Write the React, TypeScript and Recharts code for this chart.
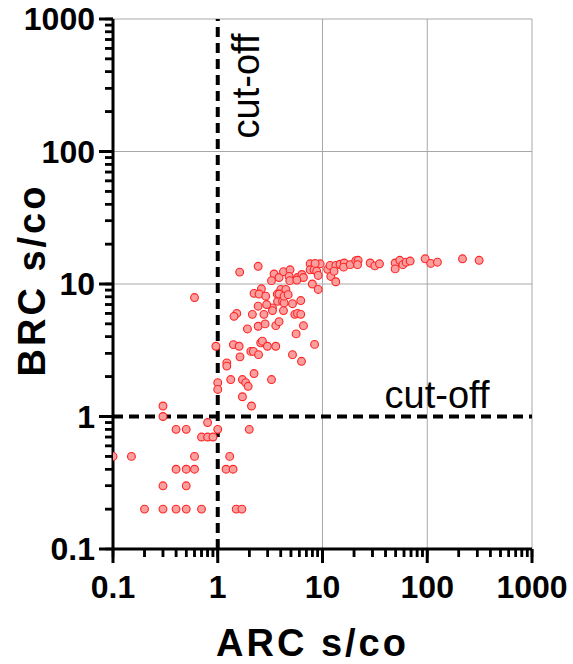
import React from 'react';
import {
  ScatterChart,
  Scatter,
  XAxis,
  YAxis,
  CartesianGrid,
  ReferenceLine,
} from 'recharts';

// ---------- data ----------
const X_VALUES: number[] = [
  0.1, 0.15, 0.3, 0.3, 0.4, 0.5, 0.8, 0.7, 0.8, 0.9, 1.0, 0.6, 1.3, 0.4, 0.5, 0.6, 1.2, 1.4, 0.3, 0.5,
  0.2, 0.3, 0.4, 0.5, 0.7, 1.5, 1.7, 2.0, 2.1,
  1.0, 1.0, 1.33, 1.72, 1.85, 1.95, 3.26, 1.72, 2.22, 1.22, 1.22, 1.63, 2.07, 2.19, 2.45, 5.17, 6.3,
  0.96, 1.41, 1.6, 2.57, 2.67, 2.98, 3.58, 8.4,
  1.92, 2.43, 2.83, 3.58, 3.85, 6.58, 5.6,
  2.14, 1.52, 1.43, 2.76, 3.33, 3.33, 4.24, 5.44, 5.77, 6.2,
  2.43, 2.93, 3.72, 4.15, 4.3, 5.17, 6.2,
  2.22, 2.61, 2.48, 2.87, 3.7, 4.0, 4.47, 3.85, 4.3, 4.7,
  0.6,
  1.62, 2.43, 3.45, 3.26, 3.85, 4.24, 4.9, 4.8, 4.87, 5.77, 6.35, 6.58, 5.69,
  7.62, 7.62, 8.3, 8.8, 9.5, 9.1, 11.2, 8.0, 9.1,
  8.5, 11.8, 13.4, 14.7, 12.0, 12.9, 13.4,
  16.1, 15.9, 18.4, 20.8, 21.9, 21.6, 28.5, 31.6, 35.0, 49.4, 49.4, 54.7, 58.5, 62.9, 68.7,
  95.5, 108, 125, 217, 313,
];

const Y_VALUES: number[] = [
  0.5, 0.5, 1.2, 1.0, 0.8, 0.8, 0.9, 0.7, 0.7, 0.7, 0.8, 0.5, 0.5, 0.4, 0.4, 0.4, 0.4, 0.4, 0.3, 0.3,
  0.2, 0.2, 0.2, 0.2, 0.2, 0.2, 0.2, 0.8, 1.2,
  1.8, 1.6, 1.9, 1.9, 1.8, 1.69, 1.9, 1.41, 2.11, 2.54, 2.4, 2.82, 3.1, 3.1, 2.93, 2.93, 2.61,
  3.39, 3.49, 3.39, 3.6, 3.7, 3.39, 3.39, 3.5,
  4.58, 4.8, 5.0, 4.85, 5.2, 4.85, 4.2,
  5.9, 6.0, 5.7, 5.9, 6.6, 6.3, 6.3, 5.9, 6.0, 5.9,
  6.8, 7.0, 7.4, 7.4, 7.2, 7.1, 7.5,
  8.5, 9.2, 8.4, 8.1, 8.4, 9.1, 9.1, 8.4, 8.1, 8.3,
  7.9,
  12.3, 13.6, 11.9, 10.6, 11.2, 12.4, 12.8, 11.4, 10.6, 11.2, 11.8, 11.2, 10.7,
  14.2, 12.8, 12.8, 12.5, 14.2, 11.6, 12.9, 10.0, 9.1,
  14.3, 13.8, 13.8, 14.1, 11.4, 12.5, 10.4,
  14.4, 13.4, 14.0, 15.0, 15.1, 14.0, 14.4, 13.7, 14.2, 14.4, 13.0, 15.1, 14.0, 14.6, 14.9,
  15.5, 14.3, 14.6, 15.5, 15.1,
];

const X_MAJOR_TICKS: number[] = [0.1, 1, 10, 100, 1000];
const X_TICK_LABELS: string[] = ['0.1', '1', '10', '100', '1000'];
const Y_MAJOR_TICKS: number[] = [0.1, 1, 10, 100, 1000];
const Y_TICK_LABELS: string[] = ['0.1', '1', '10', '100', '1000'];
const MINOR_STEPS: number[] = [2, 3, 4, 5, 6, 7, 8, 9];
const GRID_VALUES: number[] = [10, 100, 1000];
const CUTOFF_X = 1;
const CUTOFF_Y = 1;
const X_TITLE = 'ARC s/co';
const Y_TITLE = 'BRC s/co';
const CUTOFF_TEXT = 'cut-off';

// ---------- derived ----------
const data = X_VALUES.map((x, i) => ({ x, y: Y_VALUES[i] }));

const buildTicks = (majors: number[]) => {
  const out: number[] = [];
  majors.forEach((m, i) => {
    out.push(m);
    if (i < majors.length - 1) MINOR_STEPS.forEach((s) => out.push(+(m * s).toPrecision(6)));
  });
  return out;
};
const X_ALL_TICKS = buildTicks(X_MAJOR_TICKS);
const Y_ALL_TICKS = buildTicks(Y_MAJOR_TICKS);

const majorIndex = (v: number, majors: number[]) =>
  majors.findIndex((m) => Math.abs(Math.log10(v) - Math.log10(m)) < 1e-6);

const FONT = '"Liberation Sans", Arial, Helvetica, sans-serif';
const MINOR_LEN = 8;
const MAJOR_LEN = 14;

// tick: mark (long for majors, short for minors) plus the label for majors
const XTick = (props: any) => {
  const { x, y, payload } = props;
  const idx = majorIndex(payload.value, X_MAJOR_TICKS);
  const major = idx >= 0;
  const y0 = y - MINOR_LEN;
  return (
    <g>
      <rect
        x={x - (major ? 1.5 : 1.25)}
        y={y0}
        width={major ? 3 : 2.5}
        height={major ? MAJOR_LEN : MINOR_LEN}
        fill="#000"
        stroke="none"
      />
      {major && (
        <text x={x} y={y + 41} textAnchor="middle" fontSize={32} fontWeight="bold" fontFamily={FONT} fill="#000">
          {X_TICK_LABELS[idx]}
        </text>
      )}
    </g>
  );
};

const YTick = (props: any) => {
  const { x, y, payload } = props;
  const idx = majorIndex(payload.value, Y_MAJOR_TICKS);
  const major = idx >= 0;
  const x0 = x + MINOR_LEN;
  const len = major ? MAJOR_LEN : MINOR_LEN;
  return (
    <g>
      <rect
        x={x0 - len}
        y={y - (major ? 1.5 : 1.25)}
        width={len}
        height={major ? 3 : 2.5}
        fill="#000"
        stroke="none"
      />
      {major && (
        <text x={x - 10} y={y + 11} textAnchor="end" fontSize={32} fontWeight="bold" fontFamily={FONT} fill="#000">
          {Y_TICK_LABELS[idx]}
        </text>
      )}
    </g>
  );
};

const Dot = (props: any) => {
  const { cx, cy } = props;
  if (cx == null || cy == null) return null;
  return <circle cx={cx} cy={cy} r={3.9} fill="#fa9e9e" stroke="#ff2424" strokeWidth={1.1} />;
};

const XTitle = (props: any) => {
  const vb = props.viewBox || {};
  return (
    <text
      x={vb.x + vb.width / 2 - 10}
      y={vb.y + 107}
      textAnchor="middle"
      fontSize={38}
      fontWeight="bold"
      letterSpacing={3}
      fontFamily={FONT}
      fill="#000"
    >
      {X_TITLE}
    </text>
  );
};

const YTitle = (props: any) => {
  const vb = props.viewBox || {};
  const cx = vb.x + 45;
  const cy = vb.y + vb.height / 2 - 4;
  return (
    <text
      x={cx}
      y={cy}
      transform={`rotate(-90, ${cx}, ${cy})`}
      textAnchor="middle"
      fontSize={38}
      fontWeight="bold"
      letterSpacing={3}
      fontFamily={FONT}
      fill="#000"
    >
      {Y_TITLE}
    </text>
  );
};

const CutoffVLabel = (props: any) => {
  const vb = props.viewBox || {};
  const cx = vb.x + 41;
  const cy = vb.y + 67;
  return (
    <text
      x={cx}
      y={cy}
      transform={`rotate(-90, ${cx}, ${cy})`}
      textAnchor="middle"
      fontSize={38}
      fontFamily={FONT}
      fill="#000"
    >
      {CUTOFF_TEXT}
    </text>
  );
};

const CutoffHLabel = (props: any) => {
  const vb = props.viewBox || {};
  return (
    <text x={vb.x + 324} y={vb.y - 9} textAnchor="middle" fontSize={38} fontFamily={FONT} fill="#000">
      {CUTOFF_TEXT}
    </text>
  );
};

export default function App() {
  return (
    <div style={{ position: 'absolute', left: 0, top: 0, width: 573, height: 664 }}>
      <ScatterChart width={573} height={664} margin={{ top: 19, right: 41, bottom: 0, left: 0 }}>
        <CartesianGrid
          horizontalValues={GRID_VALUES}
          verticalValues={GRID_VALUES}
          stroke="#a8a8a8"
          strokeWidth={1}
        />
        <XAxis
          type="number"
          dataKey="x"
          scale="log"
          domain={[0.1, 1000]}
          allowDataOverflow
          ticks={X_ALL_TICKS}
          interval={0}
          tick={<XTick />}
          tickLine={{ stroke: '#000', strokeWidth: 2.5 }}
          tickSize={MINOR_LEN}
          tickMargin={0}
          axisLine={{ stroke: '#000', strokeWidth: 3 }}
          height={115}
          label={<XTitle />}
        />
        <YAxis
          type="number"
          dataKey="y"
          scale="log"
          domain={[0.1, 1000]}
          allowDataOverflow
          ticks={Y_ALL_TICKS}
          interval={0}
          tick={<YTick />}
          tickLine={{ stroke: '#000', strokeWidth: 2.5 }}
          tickSize={MINOR_LEN}
          tickMargin={0}
          axisLine={{ stroke: '#000', strokeWidth: 3 }}
          width={113}
          label={<YTitle />}
        />
        <Scatter data={data} shape={<Dot />} isAnimationActive={false} />
        <ReferenceLine
          x={CUTOFF_X}
          stroke="#000"
          strokeWidth={4}
          strokeDasharray="10 6"
          label={<CutoffVLabel />}
        />
        <ReferenceLine
          y={CUTOFF_Y}
          stroke="#000"
          strokeWidth={4}
          strokeDasharray="10 6"
          label={<CutoffHLabel />}
        />
      </ScatterChart>
    </div>
  );
}
